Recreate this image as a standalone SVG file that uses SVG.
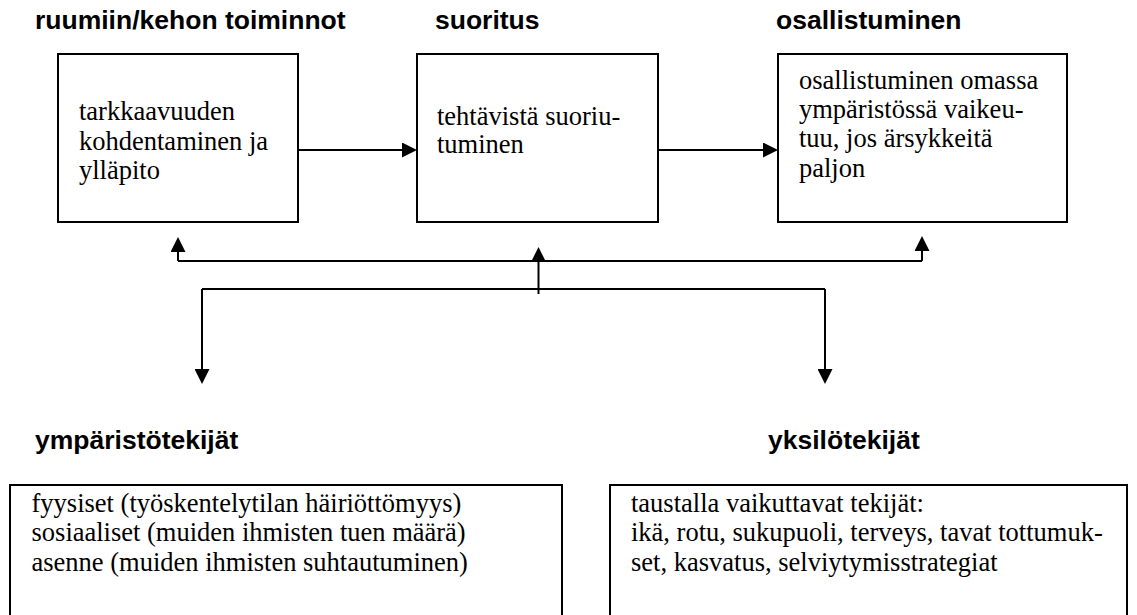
<svg xmlns="http://www.w3.org/2000/svg" width="1137" height="615" viewBox="0 0 1137 615">
<style>
.box{fill:#fff;stroke:#000;stroke-width:2}
.hd{font-family:"Liberation Sans",Arial,sans-serif;font-weight:bold;font-size:26.5px;fill:#000}
.tx{font-family:"Liberation Serif","Times New Roman",serif;font-size:26.5px;fill:#000}
.ln{fill:none;stroke:#000;stroke-width:2}
</style>
<defs>
<marker id="ah" viewBox="0 0 15 15" refX="0" refY="7.5" markerWidth="15" markerHeight="15" markerUnits="userSpaceOnUse" orient="auto">
<path d="M0,0 L15,7.5 L0,15 z" fill="#000"/>
</marker>
</defs>
<rect width="1137" height="615" fill="#fff"/>
<g id="ruumiin">
<text class="hd" x="35" y="29">ruumiin/kehon toiminnot</text>
<rect class="box" x="58" y="54" width="240" height="168"/>
<text class="tx" x="79" y="119.5">tarkkaavuuden</text>
<text class="tx" x="79" y="149.5">kohdentaminen ja</text>
<text class="tx" x="79" y="179">ylläpito</text>
</g>
<g id="suoritus">
<text class="hd" x="435" y="29">suoritus</text>
<rect class="box" x="417" y="54" width="241" height="168"/>
<text class="tx" x="437" y="124.5">tehtävistä suoriu-</text>
<text class="tx" x="437" y="153">tuminen</text>
</g>
<g id="osallistuminen">
<text class="hd" x="776" y="29">osallistuminen</text>
<rect class="box" x="778" y="54" width="289" height="168"/>
<text class="tx" x="799" y="88.5">osallistuminen omassa</text>
<text class="tx" x="799" y="117.5">ympäristössä vaikeu-</text>
<text class="tx" x="799" y="147">tuu, jos ärsykkeitä</text>
<text class="tx" x="799" y="176.5">paljon</text>
</g>
<g id="ymparistotekijat">
<text class="hd" x="35" y="449">ympäristötekijät</text>
<rect class="box" x="10" y="485" width="552" height="140"/>
<text class="tx" x="31.5" y="511.5">fyysiset (työskentelytilan häiriöttömyys)</text>
<text class="tx" x="31.5" y="541">sosiaaliset (muiden ihmisten tuen määrä)</text>
<text class="tx" x="31.5" y="570.5">asenne (muiden ihmisten suhtautuminen)</text>
</g>
<g id="yksilotekijat">
<text class="hd" x="768" y="449">yksilötekijät</text>
<rect class="box" x="610" y="485" width="517" height="140"/>
<text class="tx" x="631" y="511.5">taustalla vaikuttavat tekijät:</text>
<text class="tx" x="631" y="541">ikä, rotu, sukupuoli, terveys, tavat tottumuk-</text>
<text class="tx" x="631" y="570.5">set, kasvatus, selviytymisstrategiat</text>
</g>
<g id="connectors">
<path class="ln" d="M298,150 H402" marker-end="url(#ah)"/>
<path class="ln" d="M658,150 H763" marker-end="url(#ah)"/>
<path class="ln" d="M178,261 H922"/>
<path class="ln" d="M178,261 V252" marker-end="url(#ah)"/>
<path class="ln" d="M922,261 V251" marker-end="url(#ah)"/>
<path class="ln" d="M538.5,294 V262" marker-end="url(#ah)"/>
<path class="ln" d="M202,289 H825"/>
<path class="ln" d="M202,289 V369" marker-end="url(#ah)"/>
<path class="ln" d="M825,289 V369" marker-end="url(#ah)"/>
</g>
</svg>
